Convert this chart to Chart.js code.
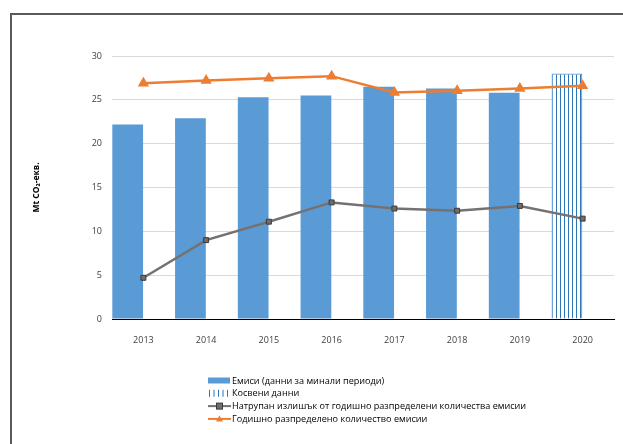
<!DOCTYPE html>
<html>
<head>
<meta charset="utf-8">
<script src="https://cdn.jsdelivr.net/npm/chart.js@4.4.1/dist/chart.umd.min.js"></script>
<style>
  html, body { margin: 0; padding: 0; background: #fff; }
  #wrap { position: relative; width: 623px; height: 444px; overflow: hidden; }
  #frame { position: absolute; left: 10px; top: 13px; width: 700px; height: 500px;
           border-left: 2px solid #595959; border-top: 2px solid #595959; }
  canvas { position: absolute; left: 0; top: 0; }
</style>
</head>
<body>
<div id="wrap">
  <div id="frame"></div>
  <canvas id="myChart" width="623" height="444"></canvas>
</div>
<script>
const years = ["2013", "2014", "2015", "2016", "2017", "2018", "2019", "2020"];
const emissions = [22.2, 22.9, 25.3, 25.5, 26.5, 26.3, 25.8, null];
const indirect = [null, null, null, null, null, null, null, 28.0];
const surplus = [4.7, 9.0, 11.1, 13.3, 12.6, 12.35, 12.9, 11.45];
const allocation = [26.9, 27.2, 27.45, 27.7, 25.85, 26.05, 26.3, 26.6];

const FONT = "'Open Sans', 'Noto Sans', sans-serif";

// vertical hatch for the estimated year
function hatch() {
    const c = document.createElement("canvas");
    c.width = 4; c.height = 4;
    const g = c.getContext("2d");
    g.fillStyle = "#ffffff";
    g.fillRect(0, 0, 4, 4);
    g.fillStyle = "#2e75b6";
    g.fillRect(0, 0, 1, 4);
    return g.createPattern(c, "repeat");
}
const hatchFill = hatch();

// legend drawn as a single column under the plot
const columnLegend = {
    id: "columnLegend",
    afterDraw(chart, args, opts) {
        const ctx = chart.ctx;
        ctx.save();
        ctx.font = "9.1px " + FONT;
        ctx.textBaseline = "middle";
        let y = opts.top;
        chart.data.datasets.forEach((ds) => {
            if (!ds.label) return;
            const x = opts.left;
            if (ds.type === "bar" && ds.label === "Косвени данни") {
                ctx.strokeStyle = "#2e75b6";
                ctx.lineWidth = 1;
                for (let i = 0; i < 5; i++) {
                    ctx.beginPath();
                    ctx.moveTo(x + 1.5 + i * 4.5, y - 3.5);
                    ctx.lineTo(x + 1.5 + i * 4.5, y + 3.5);
                    ctx.stroke();
                }
            } else if (ds.type === "bar") {
                ctx.fillStyle = ds.backgroundColor;
                ctx.fillRect(x, y - 3, 22, 6);
            } else {
                ctx.strokeStyle = ds.borderColor;
                ctx.lineWidth = 2;
                ctx.beginPath();
                ctx.moveTo(x, y);
                ctx.lineTo(x + 23, y);
                ctx.stroke();
                ctx.fillStyle = ds.pointBackgroundColor;
                if (ds.pointStyle === "rect") {
                    ctx.fillRect(x + 8.5, y - 3, 6, 6);
                    ctx.strokeStyle = ds.pointBorderColor;
                    ctx.lineWidth = 1;
                    ctx.strokeRect(x + 8.5, y - 3, 6, 6);
                } else {
                    ctx.beginPath();
                    ctx.moveTo(x + 11.5, y - 3.5);
                    ctx.lineTo(x + 15, y + 2.5);
                    ctx.lineTo(x + 8, y + 2.5);
                    ctx.closePath();
                    ctx.fill();
                }
            }
            ctx.fillStyle = "#000000";
            ctx.fillText(ds.label, x + 24, y + 0.5);
            y += opts.rowHeight;
        });
        ctx.restore();
    }
};

const ctx = document.getElementById("myChart");

new Chart(ctx, {
    type: "bar",
    data: {
        labels: years,
        datasets: [
            {
                type: "bar",
                label: "Емиси (данни за минали периоди)",
                data: emissions,
                stack: "a",
                order: 2,
                backgroundColor: "#5b9bd5",
                categoryPercentage: 1,
                barPercentage: 0.98
            },
            {
                type: "bar",
                label: "Косвени данни",
                data: indirect,
                stack: "a",
                order: 2,
                backgroundColor: hatchFill,
                borderColor: "#5b9bd5",
                borderWidth: 1.2,
                categoryPercentage: 1,
                barPercentage: 0.98
            },
            {
                // keeps the right half of every year free
                type: "bar",
                label: "",
                data: years.map(() => null),
                stack: "b",
                order: 3,
                categoryPercentage: 1,
                barPercentage: 0.98
            },
            {
                type: "line",
                label: "Натрупан излишък от годишно разпределени количества емисии",
                data: surplus,
                order: 0,
                borderColor: "#767171",
                borderWidth: 2.5,
                pointStyle: "rect",
                pointRadius: 3.5,
                pointBackgroundColor: "#6e6e6e",
                pointBorderColor: "#3a3a3a",
                pointBorderWidth: 1,
                tension: 0
            },
            {
                type: "line",
                label: "Годишно разпределено количество емисии",
                data: allocation,
                order: 1,
                borderColor: "#ed7d31",
                borderWidth: 2.5,
                pointStyle: "triangle",
                pointRadius: 4,
                pointBackgroundColor: "#ed7d31",
                pointBorderColor: "#ed7d31",
                tension: 0
            }
        ]
    },
    options: {
        responsive: false,
        animation: false,
        layout: { padding: { top: 56, right: 9, left: 0, bottom: 0 } },
        scales: {
            x: {
                stacked: true,
                offset: true,
                grid: { display: false },
                border: { display: true, color: "#000000", width: 1 },
                ticks: { color: "#404040", font: { family: FONT, size: 9 }, padding: 8 },
                afterFit(scale) { scale.height = 125; }
            },
            y: {
                stacked: false,
                min: 0,
                max: 30,
                ticks: { stepSize: 5, color: "#404040", font: { family: FONT, size: 9 }, padding: 10 },
                grid: {
                    drawTicks: false,
                    color: (c) => c.tick && c.tick.value === 0 ? "#000000" : "#d9d9d9",
                    lineWidth: 1
                },
                border: { display: false },
                title: {
                    display: true,
                    text: "Mt CO₂-екв.",
                    color: "#000000",
                    font: { family: FONT, size: 8.5, weight: "bold" },
                    padding: { top: 31, bottom: 0 }
                },
                afterFit(scale) { scale.width = 112; }
            }
        },
        plugins: {
            legend: { display: false },
            tooltip: { enabled: false },
            columnLegend: { left: 208, top: 380.5, rowHeight: 12.8 }
        }
    },
    plugins: [columnLegend]
});
</script>
</body>
</html>
